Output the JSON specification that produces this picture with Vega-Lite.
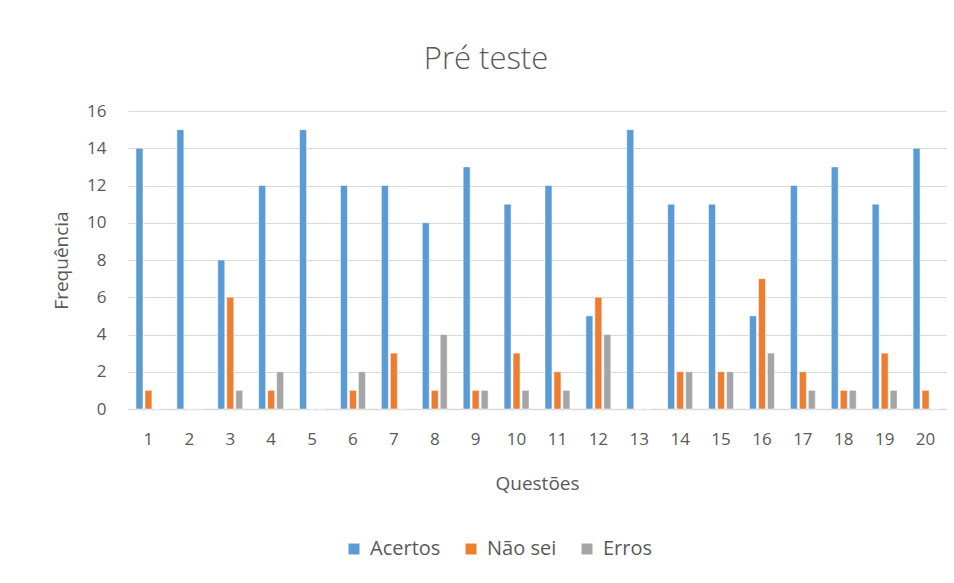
{
  "$schema": "https://vega.github.io/schema/vega-lite/v6.json",
  "width": 818,
  "height": 298,
  "autosize": {"type": "none"},
  "padding": {"left": 128, "top": 111, "right": 8, "bottom": 174},
  "background": "white",
  "title": {
    "text": "Pré teste",
    "fontSize": 31,
    "font": "Open Sans",
    "fontWeight": 300,
    "color": "#595959",
    "anchor": "middle",
    "dx": -51,
    "offset": 26
  },
  "data": {
    "values": [
      {"q": "1", "serie": "Acertos", "v": 14}, {"q": "1", "serie": "Não sei", "v": 1}, {"q": "1", "serie": "Erros", "v": 0},
      {"q": "2", "serie": "Acertos", "v": 15}, {"q": "2", "serie": "Não sei", "v": 0}, {"q": "2", "serie": "Erros", "v": 0},
      {"q": "3", "serie": "Acertos", "v": 8}, {"q": "3", "serie": "Não sei", "v": 6}, {"q": "3", "serie": "Erros", "v": 1},
      {"q": "4", "serie": "Acertos", "v": 12}, {"q": "4", "serie": "Não sei", "v": 1}, {"q": "4", "serie": "Erros", "v": 2},
      {"q": "5", "serie": "Acertos", "v": 15}, {"q": "5", "serie": "Não sei", "v": 0}, {"q": "5", "serie": "Erros", "v": 0},
      {"q": "6", "serie": "Acertos", "v": 12}, {"q": "6", "serie": "Não sei", "v": 1}, {"q": "6", "serie": "Erros", "v": 2},
      {"q": "7", "serie": "Acertos", "v": 12}, {"q": "7", "serie": "Não sei", "v": 3}, {"q": "7", "serie": "Erros", "v": 0},
      {"q": "8", "serie": "Acertos", "v": 10}, {"q": "8", "serie": "Não sei", "v": 1}, {"q": "8", "serie": "Erros", "v": 4},
      {"q": "9", "serie": "Acertos", "v": 13}, {"q": "9", "serie": "Não sei", "v": 1}, {"q": "9", "serie": "Erros", "v": 1},
      {"q": "10", "serie": "Acertos", "v": 11}, {"q": "10", "serie": "Não sei", "v": 3}, {"q": "10", "serie": "Erros", "v": 1},
      {"q": "11", "serie": "Acertos", "v": 12}, {"q": "11", "serie": "Não sei", "v": 2}, {"q": "11", "serie": "Erros", "v": 1},
      {"q": "12", "serie": "Acertos", "v": 5}, {"q": "12", "serie": "Não sei", "v": 6}, {"q": "12", "serie": "Erros", "v": 4},
      {"q": "13", "serie": "Acertos", "v": 15}, {"q": "13", "serie": "Não sei", "v": 0}, {"q": "13", "serie": "Erros", "v": 0},
      {"q": "14", "serie": "Acertos", "v": 11}, {"q": "14", "serie": "Não sei", "v": 2}, {"q": "14", "serie": "Erros", "v": 2},
      {"q": "15", "serie": "Acertos", "v": 11}, {"q": "15", "serie": "Não sei", "v": 2}, {"q": "15", "serie": "Erros", "v": 2},
      {"q": "16", "serie": "Acertos", "v": 5}, {"q": "16", "serie": "Não sei", "v": 7}, {"q": "16", "serie": "Erros", "v": 3},
      {"q": "17", "serie": "Acertos", "v": 12}, {"q": "17", "serie": "Não sei", "v": 2}, {"q": "17", "serie": "Erros", "v": 1},
      {"q": "18", "serie": "Acertos", "v": 13}, {"q": "18", "serie": "Não sei", "v": 1}, {"q": "18", "serie": "Erros", "v": 1},
      {"q": "19", "serie": "Acertos", "v": 11}, {"q": "19", "serie": "Não sei", "v": 3}, {"q": "19", "serie": "Erros", "v": 1},
      {"q": "20", "serie": "Acertos", "v": 14}, {"q": "20", "serie": "Não sei", "v": 1}, {"q": "20", "serie": "Erros", "v": 0}
    ]
  },
  "mark": {"type": "bar", "stroke": "white", "strokeWidth": 0.5},
  "encoding": {
    "x": {
      "field": "q",
      "type": "ordinal",
      "sort": null,
      "scale": {"paddingInner": 0.39, "paddingOuter": 0.195},
      "axis": {
        "title": "Questões",
        "labelAngle": 0,
        "labelPadding": 22,
        "titlePadding": 27,
        "ticks": false,
        "domainColor": "#d9d9d9",
        "domainWidth": 1.5
      }
    },
    "xOffset": {
      "field": "serie",
      "type": "nominal",
      "sort": ["Acertos", "Não sei", "Erros"],
      "scale": {"paddingInner": 0.222, "paddingOuter": 0}
    },
    "y": {
      "field": "v",
      "type": "quantitative",
      "scale": {"domain": [0, 16], "nice": false},
      "axis": {
        "title": "Frequência",
        "values": [0, 2, 4, 6, 8, 10, 12, 14, 16],
        "domain": false,
        "ticks": false,
        "labelPadding": 22,
        "titlePadding": 15,
        "gridColor": "#d9d9d9",
        "gridWidth": 1.2
      }
    },
    "color": {
      "field": "serie",
      "type": "nominal",
      "sort": ["Acertos", "Não sei", "Erros"],
      "scale": {"domain": ["Acertos", "Não sei", "Erros"], "range": ["#5b9bd5", "#ed7d31", "#a5a5a5"]},
      "legend": {
        "title": null,
        "orient": "none",
        "direction": "horizontal",
        "legendX": 216,
        "legendY": 428,
        "symbolType": "square",
        "symbolSize": 120,
        "symbolStrokeWidth": 0,
        "labelFontSize": 20,
        "labelFont": "Open Sans",
        "labelColor": "#595959",
        "columnPadding": 20,
        "labelOffset": 6
      }
    }
  },
  "config": {
    "view": {"stroke": null},
    "axis": {
      "labelFont": "Open Sans",
      "titleFont": "Open Sans",
      "labelFontSize": 17,
      "titleFontSize": 19,
      "labelColor": "#595959",
      "titleColor": "#595959",
      "titleFontWeight": "normal"
    }
  }
}
